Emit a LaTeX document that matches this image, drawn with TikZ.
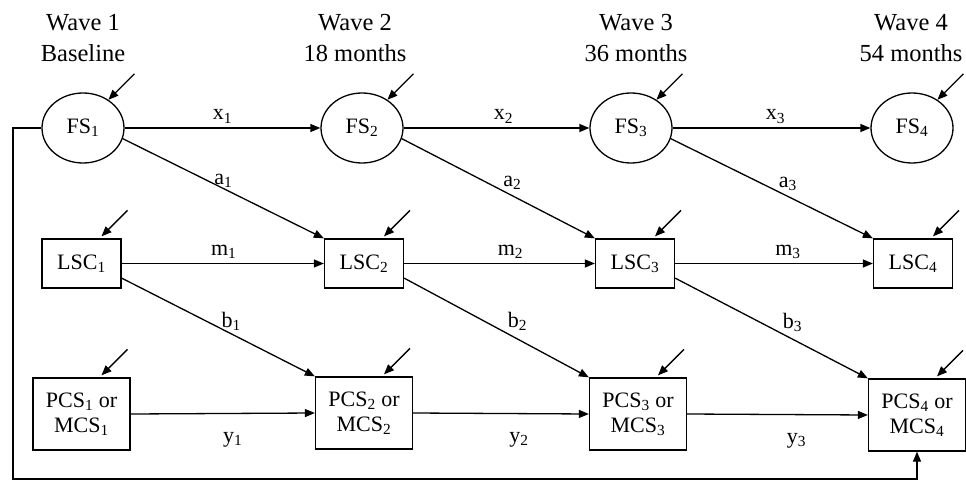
\documentclass[tikz,border=0pt]{standalone}
\usepackage{fontspec}
\setmainfont{Liberation Serif}
\usetikzlibrary{arrows.meta,calc,shapes.geometric}
\begin{document}
\begin{tikzpicture}[x=1pt,y=-1pt,
  every node/.style={font=\fontsize{22}{25}\selectfont},
  fsnode/.style={ellipse, draw, line width=1.3pt, minimum width=82pt, minimum height=70pt, inner sep=0pt},
  lscnode/.style={rectangle, draw, line width=1.3pt, minimum width=79pt, minimum height=49pt, inner sep=0pt},
  pcsnode/.style={rectangle, draw, line width=1.3pt, minimum width=97pt, minimum height=72pt, inner sep=0pt, align=center},
  hdr/.style={anchor=north, inner sep=0pt, align=center, font=\fontsize{24.5}{31}\selectfont},
  arr/.style={line width=1.3pt, -{Triangle[length=10pt,width=8pt]}},
  lab/.style={anchor=base, inner sep=0pt},
]
\useasboundingbox (0,0) rectangle (966,481);

% headers
\node[hdr] (h1) at (83,14) {Wave 1\\Baseline};
\node[hdr] (h2) at (355,14) {Wave 2\\18 months};
\node[hdr] (h3) at (636,14) {Wave 3\\36 months};
\node[hdr] (h4) at (911,14) {Wave 4\\54 months};

% FS row
\node[fsnode] (fs1) at (83,128) {FS\textsubscript{1}};
\node[fsnode] (fs2) at (362,128) {FS\textsubscript{2}};
\node[fsnode] (fs3) at (631,128) {FS\textsubscript{3}};
\node[fsnode] (fs4) at (912,128) {FS\textsubscript{4}};

% LSC row
\node[lscnode] (lsc1) at (81.5,263.5) {LSC\textsubscript{1}};
\node[lscnode] (lsc2) at (364,263.5) {LSC\textsubscript{2}};
\node[lscnode] (lsc3) at (635,263.5) {LSC\textsubscript{3}};
\node[lscnode] (lsc4) at (913,263.5) {LSC\textsubscript{4}};

% PCS row
\node[pcsnode] (pcs1) at (81.5,414) {PCS\textsubscript{1} or\\MCS\textsubscript{1}};
\node[pcsnode] (pcs2) at (364,413) {PCS\textsubscript{2} or\\MCS\textsubscript{2}};
\node[pcsnode] (pcs3) at (638,414) {PCS\textsubscript{3} or\\MCS\textsubscript{3}};
\node[pcsnode] (pcs4) at (917,415) {PCS\textsubscript{4} or\\MCS\textsubscript{4}};

% horizontal paths
\draw[arr] (fs1.east) -- node[lab, yshift=8pt] {x\textsubscript{1}} (fs2.west);
\draw[arr] (fs2.east) -- node[lab, xshift=7pt, yshift=8pt] {x\textsubscript{2}} (fs3.west);
\draw[arr] (fs3.east) -- node[lab, xshift=4pt, yshift=8pt] {x\textsubscript{3}} (fs4.west);

\draw[arr] (lsc1.east) -- node[lab, xshift=1pt, yshift=8.5pt] {m\textsubscript{1}} (lsc2.west);
\draw[arr] (lsc2.east) -- node[lab, xshift=11pt, yshift=8.5pt] {m\textsubscript{2}} (lsc3.west);
\draw[arr] (lsc3.east) -- node[lab, xshift=14pt, yshift=8.5pt] {m\textsubscript{3}} (lsc4.west);

\draw[arr] (pcs1.east) -- node[lab, xshift=10pt, yshift=-29pt] {y\textsubscript{1}} (pcs2.west);
\draw[arr] (pcs2.east) -- node[lab, xshift=18pt, yshift=-29pt] {y\textsubscript{2}} (pcs3.west);
\draw[arr] (pcs3.east) -- node[lab, xshift=19pt, yshift=-29pt] {y\textsubscript{3}} (pcs4.west);

% diagonal paths
\draw[arr] (fs1.-15) -- node[lab, yshift=4pt] {a\textsubscript{1}} (lsc2.north west);
\draw[arr] (fs2.-15) -- node[lab, xshift=14pt, yshift=2pt] {a\textsubscript{2}} (lsc3.north west);
\draw[arr] (fs3.-15) -- node[lab, xshift=16pt, yshift=1pt] {a\textsubscript{3}} (lsc4.north west);

\draw[arr] (lsc1.-20) -- node[lab, xshift=13pt] {b\textsubscript{1}} (pcs2.north west);
\draw[arr] (lsc2.-20) -- node[lab, xshift=21pt] {b\textsubscript{2}} (pcs3.north west);
\draw[arr] (lsc3.-20) -- node[lab, xshift=21pt] {b\textsubscript{3}} (pcs4.north west);

% disturbance arrows
\foreach \n in {fs1,fs2,fs3,fs4} {
  \draw[arr] ($(\n.48)+(26,-26)$) -- (\n.48);
}
\foreach \n in {lsc1,lsc2,lsc3,lsc4,pcs1,pcs2,pcs3,pcs4} {
  \draw[arr] ($(\n.north)+(46,-28)$) -- ($(\n.north)+(20,-2)$);
}

% feedback path
\coordinate (fb) at (13,479);
\draw[arr] (fs1.west) -- (fs1.west -| fb) -- (fb) -- (fb -| pcs4.south) -- (pcs4.south);
\end{tikzpicture}
\end{document}
